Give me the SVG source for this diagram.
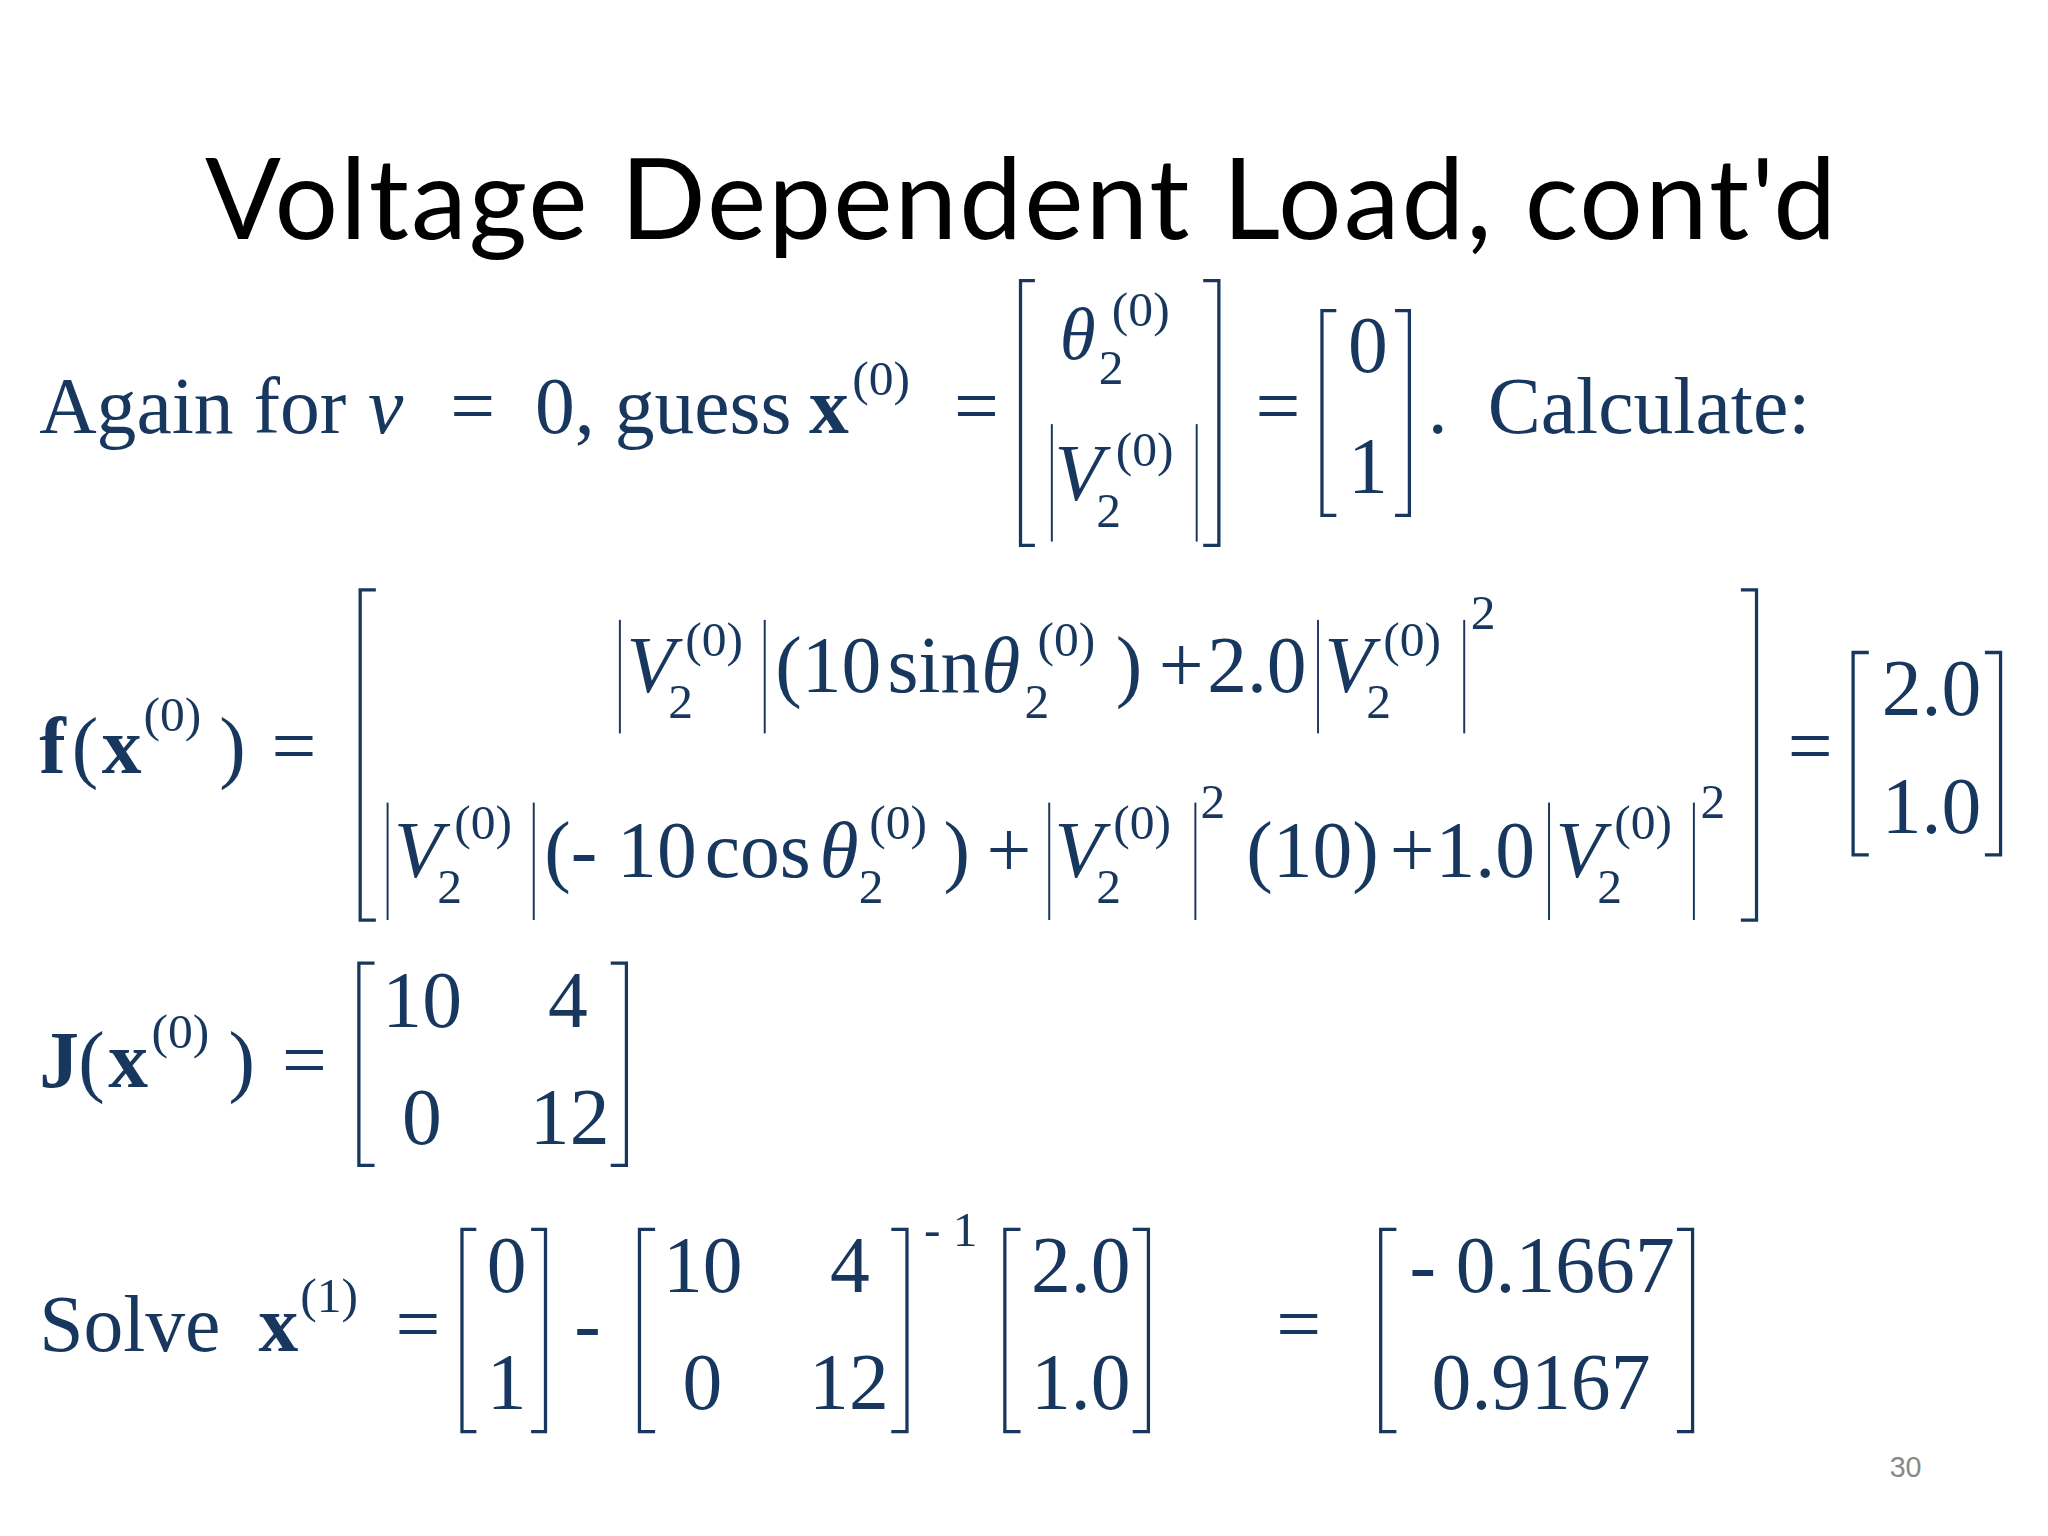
<svg xmlns="http://www.w3.org/2000/svg" width="2048" height="1536" viewBox="0 0 2048 1536">
<style>
.m{font-family:"Liberation Serif","Times New Roman",serif;fill:#17375e;font-size:61px}
.i{font-style:italic}
.b{font-weight:bold}
.s{font-size:38px}
.br{fill:none;stroke:#17375e;stroke-width:2.5}
.bar{stroke:#17375e;stroke-width:1.5}
</style>
<rect width="2048" height="1536" fill="#fff"/>
<g transform="scale(1.305)">
<g id="title"><text x="782" y="183" text-anchor="middle" font-family="Lato,'Open Sans',sans-serif" font-size="86" textLength="1250" fill="#000">Voltage Dependent Load, cont'd</text></g>
<g id="line1" class="m">
<text x="30" y="332">Again for</text><text class="i" x="282" y="332">v</text><text x="345" y="332">=</text><text x="410" y="332">0, guess</text><text class="b" x="620" y="332">x</text>
<text class="s" x="653" y="303">(0)</text>
<text x="731" y="332">=</text>
<path class="br" d="M793,215H782V418H793M922,215H934V418H922"/>
<text class="i" x="812" y="275" font-size="56">θ</text><text class="s" x="842" y="294">2</text><text class="s" x="852" y="250">(0)</text>
<line class="bar" x1="806" y1="325" x2="806" y2="415"/><line class="bar" x1="917" y1="325" x2="917" y2="415"/>
<text class="i" x="808" y="383">V</text><text class="s" x="840" y="404">2</text><text class="s" x="855" y="357">(0)</text>
<text x="962" y="332">=</text>
<path class="br" d="M1024,238H1013V395H1024M1069,238H1080V395H1069"/>
<text x="1033" y="285">0</text><text x="1033" y="378">1</text>
<text x="1094" y="332">.</text><text x="1140" y="332">Calculate:</text>
</g>
<g id="fline" class="m">
<text class="b" x="30" y="592">f</text><text x="55" y="592">(</text><text class="b" x="78" y="592">x</text><text class="s" x="110" y="560">(0)</text><text x="168" y="592">)</text><text x="208" y="592">=</text>
<path class="br" d="M288,452H276V705H288M1334,452H1346V705H1334"/>
<line class="bar" x1="475" y1="475" x2="475" y2="562"/><text class="i" x="480" y="530">V</text><text class="s" x="512" y="550">2</text><text class="s" x="525" y="503">(0)</text><line class="bar" x1="586" y1="475" x2="586" y2="562"/>
<text x="594" y="530">(10</text><text x="680" y="530">sin</text><text class="i" x="752" y="530">θ</text><text class="s" x="785" y="550">2</text><text class="s" x="795" y="503">(0)</text><text x="855" y="530">)</text><text x="888" y="530">+</text><text x="925" y="530">2.0</text>
<line class="bar" x1="1010" y1="475" x2="1010" y2="562"/><text class="i" x="1015" y="530">V</text><text class="s" x="1047" y="550">2</text><text class="s" x="1060" y="503">(0)</text><line class="bar" x1="1122" y1="475" x2="1122" y2="562"/><text class="s" x="1127" y="482">2</text>
<line class="bar" x1="297" y1="615" x2="297" y2="705"/><text class="i" x="302" y="672">V</text><text class="s" x="335" y="692">2</text><text class="s" x="348" y="643">(0)</text><line class="bar" x1="409" y1="615" x2="409" y2="705"/>
<text x="417" y="672">(- 10</text><text x="540" y="672">cos</text><text class="i" x="628" y="672">θ</text><text class="s" x="658" y="692">2</text><text class="s" x="666" y="643">(0)</text><text x="723" y="672">)</text><text x="756" y="672">+</text>
<line class="bar" x1="804" y1="615" x2="804" y2="705"/><text class="i" x="808" y="672">V</text><text class="s" x="840" y="692">2</text><text class="s" x="853" y="643">(0)</text><line class="bar" x1="916" y1="615" x2="916" y2="705"/><text class="s" x="920" y="627">2</text>
<text x="955" y="672">(10)</text><text x="1065" y="672">+</text><text x="1100" y="672">1.0</text>
<line class="bar" x1="1187" y1="615" x2="1187" y2="705"/><text class="i" x="1192" y="672">V</text><text class="s" x="1224" y="692">2</text><text class="s" x="1237" y="643">(0)</text><line class="bar" x1="1298" y1="615" x2="1298" y2="705"/><text class="s" x="1303" y="627">2</text>
<text x="1370" y="592">=</text>
<path class="br" d="M1432,500H1420V655H1432M1521,500H1533V655H1521"/>
<text x="1442" y="548">2.0</text><text x="1442" y="638">1.0</text>
</g>
<g id="jline" class="m">
<text class="b" x="30" y="833">J</text><text x="60" y="833">(</text><text class="b" x="83" y="833">x</text><text class="s" x="116" y="803">(0)</text><text x="175" y="833">)</text><text x="216" y="833">=</text>
<path class="br" d="M287,738H275V893H287M468,738H480V893H468"/>
<text x="293" y="787">10</text><text x="420" y="787">4</text><text x="308" y="877">0</text><text x="406" y="877">12</text>
</g>
<g id="solve" class="m">
<text x="30" y="1035">Solve</text><text class="b" x="198" y="1035">x</text><text class="s" x="230" y="1005">(1)</text><text x="303" y="1035">=</text>
<path class="br" d="M365,942H354V1097H365M407,942H418V1097H407"/>
<text x="373" y="990">0</text><text x="373" y="1080">1</text>
<text x="440" y="1035">-</text>
<path class="br" d="M502,942H490V1097H502M683,942H695V1097H683"/>
<text x="508" y="990">10</text><text x="636" y="990">4</text><text x="523" y="1080">0</text><text x="620" y="1080">12</text>
<text class="s" x="708" y="955">- 1</text>
<path class="br" d="M782,942H770V1097H782M868,942H880V1097H868"/>
<text x="790" y="990">2.0</text><text x="790" y="1080">1.0</text>
<text x="978" y="1035">=</text>
<path class="br" d="M1070,942H1058V1097H1070M1285,942H1297V1097H1285"/>
<text x="1080" y="990">- 0.1667</text><text x="1097" y="1080">0.9167</text>
</g>
<text x="1448" y="1132" font-family="Liberation Sans,Arial,sans-serif" font-size="22" fill="#888">30</text>
</g>
</svg>
